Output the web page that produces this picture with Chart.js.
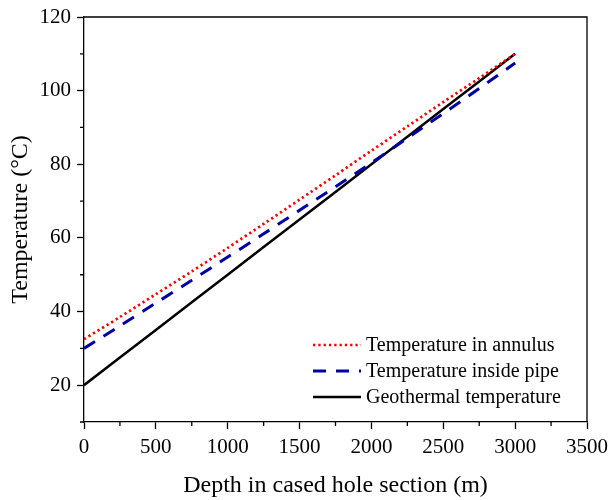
<!DOCTYPE html>
<html>
<head>
<meta charset="utf-8">
<script src="https://cdn.jsdelivr.net/npm/chart.js@4"></script>
<style>
  html, body { margin: 0; padding: 0; background: #fff; }
  #wrap { width: 610px; height: 500px; }
</style>
</head>
<body>
<div id="wrap"><canvas id="tempChart" width="610" height="500"></canvas></div>
<script>
// depth along cased hole section (m)
const depths = [0, 250, 500, 750, 1000, 1250, 1500, 1750, 2000, 2250, 2500, 2750, 3000];
const annulusTemp = [32.5, 38.5, 44.7, 50.9, 57.3, 63.8, 70.4, 77.0, 83.7, 90.3, 96.9, 103.4, 110.0];
const pipeTemp = [30.0, 36.1, 42.3, 48.5, 54.8, 61.1, 67.5, 73.9, 80.4, 87.1, 93.8, 100.6, 107.5];
const geoTemp = [20.0, 27.5, 35.0, 42.5, 50.0, 57.5, 65.0, 72.5, 80.0, 87.5, 95.0, 102.5, 110.0];
const seriesLabels = ['Temperature in annulus', 'Temperature inside pipe', 'Geothermal temperature'];
const xMinorTicks = [250, 750, 1250, 1750, 2250, 2750, 3250];
const yMinorTicks = [10, 30, 50, 70, 90, 110];

const serif = 'Liberation Serif';

function pts(ys) {
    return depths.map((d, i) => ({ x: d, y: ys[i] }));
}

// box, minor ticks and in-plot legend
const extras = {
    id: 'extras',
    afterDraw(chart) {
        const c = chart.ctx;
        const a = chart.chartArea;
        const xs = chart.scales.x, ys = chart.scales.y;
        c.save();
        c.strokeStyle = '#000';
        c.lineWidth = 1.3;
        c.beginPath();
        c.moveTo(a.left, a.top); c.lineTo(a.right, a.top); c.lineTo(a.right, a.bottom);
        c.stroke();
        c.beginPath();
        xMinorTicks.forEach(v => {
            const px = xs.getPixelForValue(v);
            c.moveTo(px, a.bottom); c.lineTo(px, a.bottom + 4);
        });
        yMinorTicks.forEach(v => {
            const py = ys.getPixelForValue(v);
            c.moveTo(a.left, py); c.lineTo(a.left - 4, py);
        });
        c.stroke();

        // legend
        const rows = [345, 371, 397];
        c.font = '20px "' + serif + '"';
        c.textBaseline = 'middle';
        c.fillStyle = '#000';
        chart.data.datasets.forEach((ds, i) => {
            c.strokeStyle = ds.borderColor;
            c.lineWidth = ds.borderWidth;
            c.setLineDash(ds.borderDash || []);
            c.beginPath();
            c.moveTo(313, rows[i]); c.lineTo(361, rows[i]);
            c.stroke();
            c.setLineDash([]);
            c.fillText(ds.label, 366, rows[i] + 1);
        });
        c.restore();
    }
};

new Chart(document.getElementById('tempChart'), {
    type: 'line',
    data: {
        datasets: [
            { label: seriesLabels[0], data: pts(annulusTemp), borderColor: '#ff0000', borderWidth: 2.7, borderDash: [2.3, 3.0], pointRadius: 0, tension: 0.3 },
            { label: seriesLabels[1], data: pts(pipeTemp), borderColor: '#0000a8', borderWidth: 3, borderDash: [13, 10], pointRadius: 0, tension: 0.3 },
            { label: seriesLabels[2], data: pts(geoTemp), borderColor: '#000000', borderWidth: 2.5, pointRadius: 0, tension: 0 }
        ]
    },
    options: {
        responsive: false,
        animation: false,
        layout: { padding: { left: 0, right: 23, top: 17, bottom: 0 } },
        plugins: { legend: { display: false }, tooltip: { enabled: false } },
        scales: {
            x: {
                type: 'linear',
                min: 0, max: 3500,
                ticks: { stepSize: 500, color: '#000', font: { family: serif, size: 21 }, padding: 6, maxRotation: 0, callback: v => String(v) },
                grid: { drawOnChartArea: false, drawTicks: true, tickLength: 7, tickColor: '#000', tickWidth: 1.3 },
                border: { display: true, color: '#000', width: 1.3 },
                title: { display: true, text: 'Depth in cased hole section (m)', color: '#000', font: { family: serif, size: 24 }, padding: { top: 10, bottom: 0 } },
                afterFit(scale) { scale.height = 78; scale.paddingRight = 0; scale.paddingLeft = 0; }
            },
            y: {
                min: 10, max: 120,
                ticks: { stepSize: 10, color: '#000', font: { family: serif, size: 21 }, padding: 6, callback: v => String(v) },
                afterBuildTicks(scale) { scale.ticks = scale.ticks.filter(t => t.value % 20 === 0); },
                grid: { drawOnChartArea: false, drawTicks: true, tickLength: 7, tickColor: '#000', tickWidth: 1.3 },
                border: { display: true, color: '#000', width: 1.3 },
                title: { display: true, text: 'Temperature (°C)', color: '#000', font: { family: serif, size: 24 }, padding: { top: 6, bottom: 4 } },
                afterFit(scale) { scale.width = 84; scale.paddingTop = 0; scale.paddingBottom = 0; }
            }
        }
    },
    plugins: [extras]
});
</script>
</body>
</html>
